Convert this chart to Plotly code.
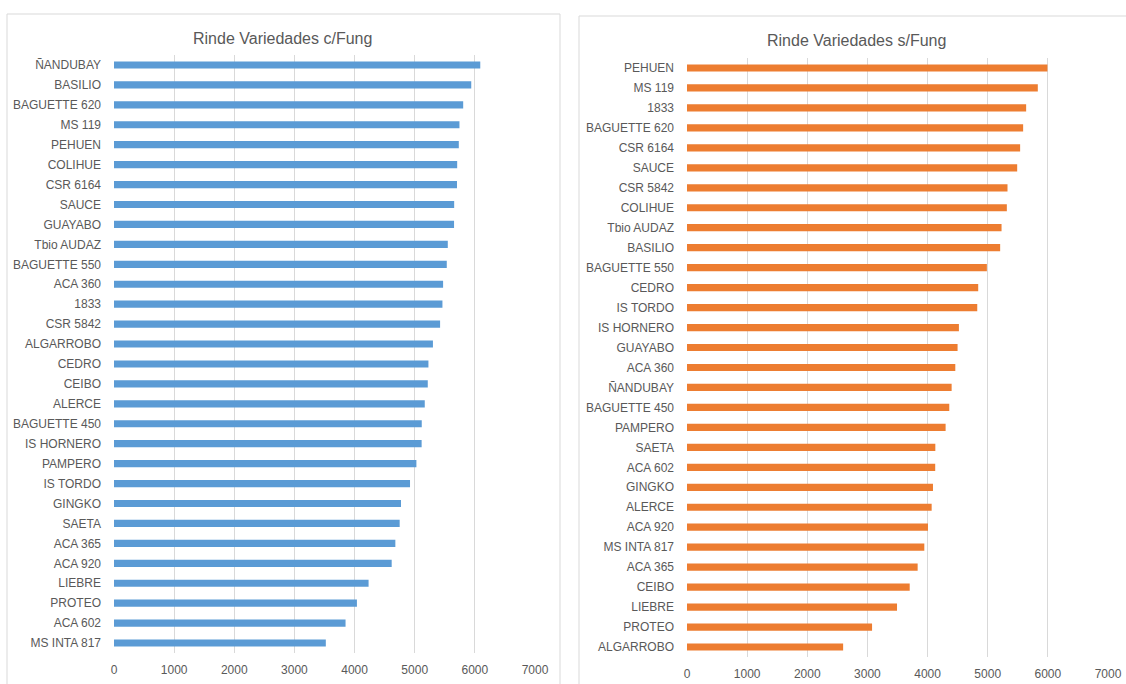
import plotly.graph_objects as go

# Left chart: con fungicida
cats_c = ["ÑANDUBAY", "BASILIO", "BAGUETTE 620", "MS 119", "PEHUEN", "COLIHUE", "CSR 6164",
          "SAUCE", "GUAYABO", "Tbio AUDAZ", "BAGUETTE 550", "ACA 360", "1833", "CSR 5842",
          "ALGARROBO", "CEDRO", "CEIBO", "ALERCE", "BAGUETTE 450", "IS HORNERO", "PAMPERO",
          "IS TORDO", "GINGKO", "SAETA", "ACA 365", "ACA 920", "LIEBRE", "PROTEO", "ACA 602",
          "MS INTA 817"]
vals_c = [6090, 5940, 5806, 5744, 5733, 5706, 5703, 5656, 5654, 5550, 5533, 5472, 5461, 5422,
          5303, 5228, 5217, 5167, 5117, 5115, 5028, 4922, 4772, 4750, 4678, 4617, 4233, 4039,
          3850, 3522]

# Right chart: sin fungicida
cats_s = ["PEHUEN", "MS 119", "1833", "BAGUETTE 620", "CSR 6164", "SAUCE", "CSR 5842", "COLIHUE",
          "Tbio AUDAZ", "BASILIO", "BAGUETTE 550", "CEDRO", "IS TORDO", "IS HORNERO", "GUAYABO",
          "ACA 360", "ÑANDUBAY", "BAGUETTE 450", "PAMPERO", "SAETA", "ACA 602", "GINGKO", "ALERCE",
          "ACA 920", "MS INTA 817", "ACA 365", "CEIBO", "LIEBRE", "PROTEO", "ALGARROBO"]
vals_s = [5993, 5833, 5639, 5589, 5539, 5490, 5329, 5318, 5230, 5207, 4986, 4842, 4826, 4521,
          4499, 4461, 4400, 4361, 4300, 4129, 4127, 4090, 4068, 4007, 3946, 3835, 3703, 3492,
          3077, 2596]

x_ticks = [0, 1000, 2000, 3000, 4000, 5000, 6000, 7000]

W, H = 1126, 684
def px(x): return x / W
def py(y): return 1 - y / H

fig = go.Figure()
fig.add_trace(go.Bar(y=cats_c, x=vals_c, orientation="h", marker=dict(color="#5B9BD5"),
                     xaxis="x", yaxis="y", showlegend=False))
fig.add_trace(go.Bar(y=cats_s, x=vals_s, orientation="h", marker=dict(color="#ED7D31"),
                     xaxis="x2", yaxis="y2", showlegend=False))

font_tick = dict(family="Liberation Sans, Arial, sans-serif", size=12, color="#595959")
xcommon = dict(range=[0, 7000], tickvals=x_ticks, showgrid=True, gridcolor="#d9d9d9",
               gridwidth=1, zeroline=False, showline=False, tickfont=font_tick,
               ticks="", ticklabelstandoff=8, fixedrange=True, automargin=False)
ycommon = dict(autorange="reversed", type="category", showgrid=False, zeroline=False,
               showline=False, tickfont=font_tick, ticks="", ticklabelstandoff=12,
               automargin=False)

fig.update_layout(
    template="none",
    width=W, height=H, autosize=False, margin=dict(l=0, r=0, t=0, b=0, pad=0),
    paper_bgcolor="white", plot_bgcolor="white",
    bargap=0.64,
    xaxis=dict(domain=[px(114), px(535)], anchor="y", **xcommon),
    yaxis=dict(domain=[py(653), py(55)], anchor="x", **ycommon),
    xaxis2=dict(domain=[px(687), px(1108)], anchor="y2", **xcommon),
    yaxis2=dict(domain=[py(657), py(58)], anchor="x2", **ycommon),
    shapes=[
        dict(type="rect", xref="paper", yref="paper", x0=px(7), x1=px(560), y0=py(690), y1=py(14),
             line=dict(color="#d9d9d9", width=1), fillcolor="rgba(0,0,0,0)", layer="below"),
        dict(type="rect", xref="paper", yref="paper", x0=px(579), x1=px(1135), y0=py(690), y1=py(16),
             line=dict(color="#d9d9d9", width=1), fillcolor="rgba(0,0,0,0)", layer="below"),
    ],
    annotations=[
        dict(text="Rinde Variedades c/Fung", xref="paper", yref="paper", x=px(283), y=py(38),
             xanchor="center", yanchor="middle", showarrow=False,
             font=dict(family="Liberation Sans, Arial, sans-serif", size=16, color="#595959")),
        dict(text="Rinde Variedades s/Fung", xref="paper", yref="paper", x=px(856), y=py(40),
             xanchor="center", yanchor="middle", showarrow=False,
             font=dict(family="Liberation Sans, Arial, sans-serif", size=16, color="#595959")),
    ],
)

fig.write_html("out.html", config={"displayModeBar": False})
